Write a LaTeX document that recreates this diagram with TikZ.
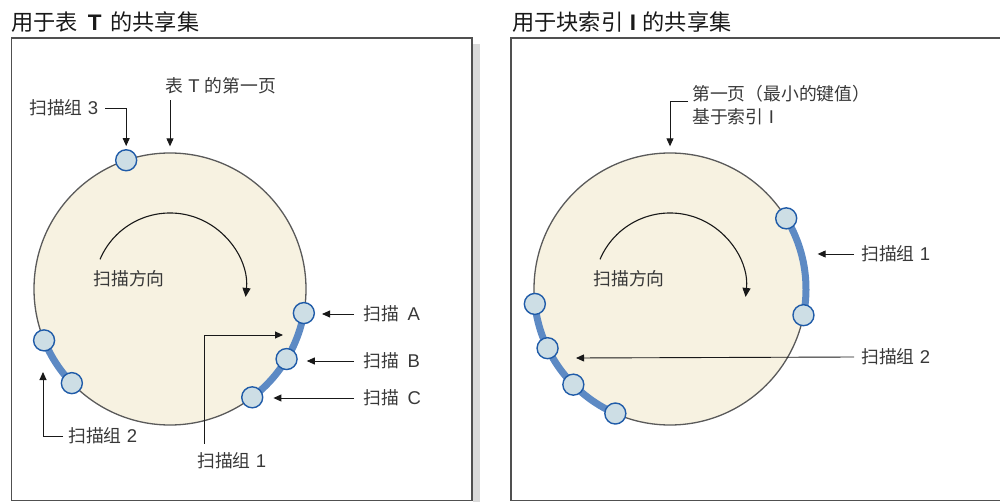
\documentclass[tikz,border=0pt]{standalone}
\usepackage{fontspec}
\setmainfont{Noto Sans CJK SC}
\newfontfamily\latf{Liberation Sans}
\newcommand\mylat[1]{{\latf\fontsize{18.5}{23}\selectfont #1}}
\newcommand\mybold[1]{{\latf\bfseries\fontsize{22.5}{25}\selectfont #1}}
\usetikzlibrary{arrows.meta}
\definecolor{cream}{HTML}{F7F2E1}
\definecolor{rim}{HTML}{5A5A5A}
\definecolor{frameC}{HTML}{505050}
\definecolor{bandC}{HTML}{5D8AC4}
\definecolor{dotFill}{HTML}{CDDEE5}
\definecolor{dotLine}{HTML}{1F5BA8}
\definecolor{txt}{HTML}{383838}
\definecolor{shadowC}{HTML}{DADADA}
\begin{document}
\begin{tikzpicture}[x=1pt,y=-1pt,
  lbl/.style={inner sep=0pt, text=txt, font=\fontsize{17.8}{23}\selectfont},
  ttl/.style={inner sep=0pt, text=black!90, font=\fontsize{22.2}{25}\selectfont},
  disk/.style={circle, draw=rim, line width=1.3pt, fill=cream, minimum size=272pt, inner sep=0pt},
  dot/.style={circle, draw=dotLine, line width=1.4pt, fill=dotFill, minimum size=21pt, inner sep=0pt},
  band/.style={draw=bandC, line width=7pt},
  arr/.style={draw=black!90, line width=0.9pt, -{Triangle[length=8pt,width=7pt]}},
  frm/.style={draw=frameC, line width=1.6pt},
  dirarc/.style={draw=black!90, line width=1.1pt, -{Triangle[length=9pt,width=8pt]}}
]
\useasboundingbox (0,0) rectangle (1000,502);
% frames
\fill[shadowC] (473,44) rectangle (480,502);
\draw[frm] (11.5,38) rectangle (472,500.5);
\draw[frm] (511,38) rectangle (1010,500.5);
% titles
\node[ttl, anchor=west] (t1) at (11,22) {用于表\hspace{0.45em}\mybold{T}\hspace{0.4em}的共享集};
\node[ttl, anchor=west] (t2) at (512,22) {用于块索引\hspace{0.3em}\mybold{I}\hspace{0.3em}的共享集};

% ---------- left disk ----------
\node[disk] (L) at (170,289) {};
\draw[dirarc] ([shift={(-157:76)}]L.center) arc[start angle=-157, end angle=6, radius=76];
\node[lbl] (dirL) at (129,279) {扫描方向};
\draw[band] ([shift={(10.2:136)}]L.center) arc[start angle=10.2, end angle=52.8, radius=136];
\draw[band] ([shift={(136.2:136)}]L.center) arc[start angle=136.2, end angle=157.8, radius=136];
\node[dot] (A) at ([shift={(10.2:136)}]L.center) {};
\node[dot] (B) at ([shift={(31:136)}]L.center) {};
\node[dot] (C) at ([shift={(52.8:136)}]L.center) {};
\node[dot] (G2a) at ([shift={(157.8:136)}]L.center) {};
\node[dot] (G2b) at ([shift={(136.2:136)}]L.center) {};
\node[dot] (G3) at ([shift={(251.2:136)}]L.center) {};

\node[lbl, anchor=west] (fp) at (165,86) {表\hspace{0.3em}\mylat{T}\hspace{0.3em}的第一页};
\node[lbl, anchor=west] (g3) at (29,108) {扫描组\hspace{0.3em}\mylat{3}};
\node[lbl, anchor=west] (sA) at (363,314) {扫描\hspace{0.5em}\mylat{A}};
\node[lbl, anchor=west] (sB) at (363,361) {扫描\hspace{0.5em}\mylat{B}};
\node[lbl, anchor=west] (sC) at (363,398) {扫描\hspace{0.5em}\mylat{C}};
\node[lbl, anchor=west] (g1) at (197,461) {扫描组\hspace{0.3em}\mylat{1}};
\node[lbl, anchor=west] (g2) at (68,436) {扫描组\hspace{0.3em}\mylat{2}};
\coordinate (g1e) at (283,335);
\coordinate (g2e) at (43,372);

\draw[arr, shorten >=6pt] (fp.south -| L.north) ++(0,6) -- (L.north);
\draw[arr, shorten >=3pt] (g3.east) ++(7,0) -| (G3.north);
\draw[arr, shorten >=7pt] (sA.west) ++(-9,0) -- (sA.west -| A.east);
\draw[arr, shorten >=9pt] (sB.west) ++(-9,0) -- (sB.west -| B.east);
\draw[arr, shorten >=10pt] (sC.west) ++(-9,0) -- (sC.west -| C.east);
\draw[arr] ([shift={(7pt,9pt)}]g1.north west) |- (g1e);
\draw[arr] (g2.west) ++(-5,0) -| (g2e);

% ---------- right disk ----------
\node[disk] (R) at (670,289) {};
\draw[dirarc] ([shift={(-157:76)}]R.center) arc[start angle=-157, end angle=6, radius=76];
\node[lbl] (dirR) at (629,279) {扫描方向};
\draw[band] ([shift={(-31.3:136)}]R.center) arc[start angle=-31.3, end angle=11.1, radius=136];
\draw[band] ([shift={(113.7:136)}]R.center) arc[start angle=113.7, end angle=173.7, radius=136];
\node[dot] (R1a) at ([shift={(-31.3:136)}]R.center) {};
\node[dot] (R1b) at ([shift={(11.1:136)}]R.center) {};
\node[dot] (R2a) at ([shift={(173.7:136)}]R.center) {};
\node[dot] (R2b) at ([shift={(154.2:136)}]R.center) {};
\node[dot] (R2c) at ([shift={(135.3:136)}]R.center) {};
\node[dot] (R2d) at ([shift={(113.7:136)}]R.center) {};

\node[lbl, anchor=north west, align=left] (fpR) at (692,85) {第一页（最小的键值）\\基于索引\hspace{0.3em}\mylat{I}};
\node[lbl, anchor=west] (rg1) at (861,254) {扫描组\hspace{0.3em}\mylat{1}};
\node[lbl, anchor=west] (rg2) at (861,357) {扫描组\hspace{0.3em}\mylat{2}};
\coordinate (rg2e) at (576,358);

\draw[arr, shorten >=6pt] ([shift={(-4pt,-16pt)}]fpR.north west) -| (R.north);
\draw[arr, shorten >=11pt] (rg1.west) ++(-7,0) -- (rg1.west -| R.east);
\draw[arr] (rg2.west) ++(-7,0) -- (rg2e);
\end{tikzpicture}
\end{document}
